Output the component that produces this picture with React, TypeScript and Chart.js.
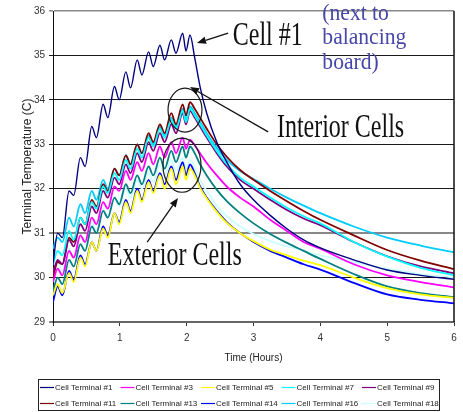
import React, { useEffect, useRef } from 'react';
import { Chart, registerables } from 'chart.js';

Chart.register(...registerables);

// Elapsed time (hours) shared by every terminal trace
const hours = [
  0, 0.07, 0.14, 0.24, 0.31, 0.41, 0.48, 0.58, 0.65, 0.75, 0.82, 0.92, 0.99,
  1.09, 1.16, 1.26, 1.33, 1.43, 1.5, 1.6, 1.67, 1.77, 1.84, 1.94, 1.99, 2.05,
  2.12, 2.2, 2.3, 2.45, 2.6, 2.8, 3.0, 3.25, 3.5, 3.75, 4.0, 4.5, 5.0, 5.5, 6.0,
];

// Terminal temperatures (C)
const cell1 = [
  30.3, 31.0, 30.9, 31.95, 31.85, 32.7, 32.5, 33.4, 33.15, 33.9, 33.6, 34.3, 34.0,
  34.63, 34.27, 34.9, 34.56, 35.08, 34.75, 35.23, 34.9, 35.35, 35.05, 35.5, 35.1, 35.46,
  34.95, 34.3, 33.7, 33.05, 32.6, 32.1, 31.75, 31.4, 31.1, 30.85, 30.67, 30.4, 30.17, 30.05, 29.96,
];
const cell3 = [
  29.9, 30.2, 30.05, 30.6, 30.45, 30.95, 30.8, 31.35, 31.2, 31.7, 31.55, 32.05, 31.95,
  32.4, 32.2, 32.6, 32.4, 32.8, 32.55, 32.95, 32.7, 33.05, 32.8, 33.15, 32.9, 33.1,
  32.98, 32.8, 32.58, 32.3, 32.05, 31.8, 31.6, 31.3, 31.05, 30.8, 30.65, 30.3, 30.05, 29.9, 29.78,
];
const cell5 = [
  29.6, 29.85, 29.65, 30.1, 29.9, 30.45, 30.25, 30.8, 30.6, 31.1, 30.9, 31.45, 31.2,
  31.7, 31.45, 31.95, 31.7, 32.15, 31.9, 32.3, 32.0, 32.45, 32.1, 32.5, 32.2, 32.45,
  32.3, 32.02, 31.78, 31.48, 31.23, 31.0, 30.82, 30.63, 30.5, 30.38, 30.28, 30.0, 29.76, 29.62, 29.54,
];
const cell7 = [
  30.3, 30.6, 30.5, 31.05, 30.85, 31.35, 31.2, 31.7, 31.55, 32.05, 31.9, 32.35, 32.2,
  32.65, 32.45, 32.9, 32.7, 33.15, 32.95, 33.35, 33.15, 33.55, 33.35, 33.75, 33.5, 33.8,
  33.65, 33.45, 33.2, 32.85, 32.55, 32.25, 32.05, 31.8, 31.57, 31.38, 31.22, 30.8, 30.47, 30.22, 30.05,
];
const cell9 = [
  30.1, 30.4, 30.3, 30.85, 30.7, 31.2, 31.05, 31.6, 31.45, 31.95, 31.8, 32.25, 32.1,
  32.55, 32.35, 32.8, 32.6, 33.05, 32.85, 33.25, 33.05, 33.45, 33.25, 33.7, 33.45, 33.75,
  33.6, 33.4, 33.15, 32.8, 32.5, 32.2, 32.0, 31.75, 31.52, 31.33, 31.18, 30.8, 30.48, 30.25, 30.1,
];
const cell11 = [
  30.0, 30.35, 30.3, 30.9, 30.8, 31.35, 31.2, 31.75, 31.6, 32.1, 31.95, 32.45, 32.3,
  32.75, 32.55, 33.0, 32.8, 33.25, 33.05, 33.45, 33.25, 33.7, 33.45, 33.9, 33.65, 33.95,
  33.8, 33.6, 33.35, 33.0, 32.72, 32.42, 32.2, 31.95, 31.72, 31.5, 31.3, 30.95, 30.62, 30.38, 30.19,
];
const cell13 = [
  29.7, 30.0, 29.85, 30.4, 30.25, 30.75, 30.6, 31.15, 31.0, 31.5, 31.35, 31.8, 31.65,
  32.1, 31.9, 32.3, 32.1, 32.5, 32.3, 32.7, 32.45, 32.85, 32.6, 32.95, 32.7, 32.95,
  32.8, 32.55, 32.3, 31.98, 31.72, 31.45, 31.22, 30.98, 30.78, 30.6, 30.42, 30.08, 29.8, 29.65, 29.56,
];
const cell14 = [
  29.45, 29.8, 29.6, 30.15, 29.95, 30.5, 30.3, 30.8, 30.6, 31.15, 30.95, 31.45, 31.25,
  31.75, 31.5, 32.0, 31.75, 32.2, 31.95, 32.35, 32.1, 32.5, 32.2, 32.6, 32.3, 32.55,
  32.35, 32.05, 31.8, 31.5, 31.25, 31.0, 30.8, 30.6, 30.45, 30.3, 30.18, 29.88, 29.62, 29.5, 29.42,
];
const cell16 = [
  30.65, 30.9, 30.8, 31.35, 31.15, 31.65, 31.45, 31.95, 31.75, 32.2, 32.0, 32.45, 32.3,
  32.75, 32.55, 33.0, 32.8, 33.2, 33.0, 33.4, 33.2, 33.6, 33.4, 33.8, 33.55, 33.85,
  33.7, 33.5, 33.25, 32.92, 32.65, 32.4, 32.22, 32.0, 31.8, 31.62, 31.45, 31.15, 30.9, 30.72, 30.57,
];
const cell18 = [
  30.1, 30.35, 30.15, 30.65, 30.45, 30.95, 30.75, 31.25, 31.05, 31.55, 31.35, 31.8, 31.6,
  32.0, 31.8, 32.2, 32.0, 32.35, 32.15, 32.55, 32.3, 32.65, 32.4, 32.7, 32.45, 32.65,
  32.5, 32.2, 31.95, 31.62, 31.38, 31.15, 30.98, 30.82, 30.7, 30.6, 30.5, 30.35, 30.2, 30.08, 30.0,
];

const seriesLabels = [
  'Cell Terminal #1', 'Cell Terminal #3', 'Cell Terminal #5', 'Cell Terminal #7', 'Cell Terminal #9',
  'Cell Terminal #11', 'Cell Terminal #13', 'Cell Terminal #14', 'Cell Terminal #16', 'Cell Terminal #18',
];
const seriesValues = [cell1, cell3, cell5, cell7, cell9, cell11, cell13, cell14, cell16, cell18];
const seriesColors = [
  '#000080', '#FF00FF', '#FFFF00', '#00FFFF', '#800080',
  '#800000', '#008080', '#0000FF', '#00CCFF', '#CCFFFF',
];

const xTicks = [0, 1, 2, 3, 4, 5, 6];
const yTicks = [29, 30, 31, 32, 33, 34, 35, 36];

const SANS = '"Liberation Sans", Arial, sans-serif';
const SERIF = '"Liberation Serif", "Times New Roman", serif';

// Callouts, placed in data units (hours, C)
const noteCell1 = { text: 'Cell #1', h: 2.69, t: 35.23 };
const noteInterior = { text: 'Interior Cells', h: 3.35, t: 33.16 };
const noteExterior = { text: 'Exterior Cells', h: 0.82, t: 30.28 };
const noteBoard = { lines: ['(next to', 'balancing', 'board)'], h: 4.03, t: [35.8, 35.26, 34.69] };

const arrowCell1 = { from: [2.62, 35.5], to: [2.155, 35.28] };
const arrowInterior = { from: [3.22, 33.28], to: [2.05, 34.29] };
const arrowExterior = { from: [1.41, 30.8], to: [1.87, 31.79] };

const ringInterior = { h: 1.975, t: 33.77, dh: 0.254, dt: 0.495 };
const ringExterior = { h: 1.93, t: 32.53, dh: 0.284, dt: 0.61 };

function drawArrow(ctx: CanvasRenderingContext2D, x1: number, y1: number, x2: number, y2: number) {
  const ang = Math.atan2(y2 - y1, x2 - x1);
  const len = 9;
  const wid = 3.6;
  const bx = x2 - Math.cos(ang) * len;
  const by = y2 - Math.sin(ang) * len;
  ctx.beginPath();
  ctx.moveTo(x1, y1);
  ctx.lineTo(bx, by);
  ctx.stroke();
  ctx.beginPath();
  ctx.moveTo(x2, y2);
  ctx.lineTo(bx + Math.sin(ang) * wid, by - Math.cos(ang) * wid);
  ctx.lineTo(bx - Math.sin(ang) * wid, by + Math.cos(ang) * wid);
  ctx.closePath();
  ctx.fill();
}

function drawTallText(ctx: CanvasRenderingContext2D, text: string, x: number, y: number, stretch: number) {
  ctx.save();
  ctx.translate(x, y);
  ctx.scale(1, stretch);
  ctx.fillText(text, 0, 0);
  ctx.restore();
}

const calloutPlugin = {
  id: 'cellCallouts',
  afterDatasetsDraw(chart: any) {
    const { ctx, chartArea, scales } = chart;
    const xs = scales.x;
    const ys = scales.y;
    const px = (h: number) => xs.getPixelForValue(h);
    const py = (t: number) => ys.getPixelForValue(t);

    ctx.save();
    // right frame edge
    ctx.strokeStyle = '#111';
    ctx.lineWidth = 1.5;
    ctx.beginPath();
    ctx.moveTo(chartArea.right, chartArea.top);
    ctx.lineTo(chartArea.right, chartArea.bottom);
    ctx.stroke();

    // rings around the peaks
    ctx.lineWidth = 1.2;
    ctx.strokeStyle = '#1a1a1a';
    for (const r of [ringInterior, ringExterior]) {
      const cx = px(r.h);
      const cy = py(r.t);
      ctx.beginPath();
      ctx.ellipse(cx, cy, px(r.h + r.dh) - cx, cy - py(r.t + r.dt), 0, 0, Math.PI * 2);
      ctx.stroke();
    }

    // arrows
    ctx.fillStyle = '#111';
    ctx.strokeStyle = '#111';
    ctx.lineWidth = 1.3;
    for (const a of [arrowCell1, arrowInterior, arrowExterior]) {
      drawArrow(ctx, px(a.from[0]), py(a.from[1]), px(a.to[0]), py(a.to[1]));
    }

    // labels
    ctx.fillStyle = '#111';
    ctx.font = `24px ${SERIF}`;
    ctx.textAlign = 'left';
    ctx.textBaseline = 'alphabetic';
    for (const n of [noteCell1, noteInterior, noteExterior]) {
      drawTallText(ctx, n.text, px(n.h), py(n.t), 1.38);
    }

    ctx.fillStyle = '#4646a8';
    ctx.font = `20px ${SERIF}`;
    noteBoard.lines.forEach((line, i) => {
      ctx.save();
      ctx.translate(px(noteBoard.h), py(noteBoard.t[i]));
      ctx.scale(1.08, 1.12);
      ctx.fillText(line, 0, 0);
      ctx.restore();
    });
    ctx.restore();
  },
  afterDraw(chart: any) {
    // boxed legend, two rows of five
    const { ctx } = chart;
    const datasets = chart.data.datasets;
    const boxL = 38.5;
    const boxT = 379.5;
    const boxW = 401;
    const boxH = 31;
    ctx.save();
    ctx.fillStyle = '#fff';
    ctx.fillRect(boxL, boxT, boxW, boxH);
    ctx.strokeStyle = '#222';
    ctx.lineWidth = 1;
    ctx.strokeRect(boxL, boxT, boxW, boxH);
    ctx.font = `8px ${SANS}`;
    ctx.textBaseline = 'middle';
    ctx.textAlign = 'left';
    datasets.forEach((ds: any, i: number) => {
      const col = i % 5;
      const row = Math.floor(i / 5);
      const x0 = 40 + col * 80.5;
      const yc = 387.5 + row * 16;
      ctx.strokeStyle = ds.borderColor;
      ctx.lineWidth = 1.2;
      ctx.beginPath();
      ctx.moveTo(x0, yc);
      ctx.lineTo(x0 + 14, yc);
      ctx.stroke();
      ctx.fillStyle = '#222';
      ctx.fillText(ds.label, x0 + 15, yc + 0.5);
    });
    ctx.restore();
  },
};

export default function App() {
  const canvasRef = useRef<HTMLCanvasElement | null>(null);

  useEffect(() => {
    document.body.style.margin = '0';
    const canvas = canvasRef.current;
    if (!canvas) return;

    const datasets = seriesLabels.map((label, i) => ({
      label,
      data: hours.map((h, k) => ({ x: h, y: seriesValues[i][k] })),
      borderColor: seriesColors[i],
      backgroundColor: seriesColors[i],
      borderWidth: i === 0 ? 1.4 : 1.8,
      pointRadius: 0,
      fill: false,
      cubicInterpolationMode: 'monotone' as const,
    }));

    const chart = new Chart(canvas, {
      type: 'line',
      data: { datasets },
      options: {
        animation: false,
        responsive: false,
        devicePixelRatio: 1,
        layout: { padding: { top: 11, right: 9, bottom: 0, left: 0 } },
        plugins: {
          legend: { display: false },
          tooltip: { enabled: false },
        },
        scales: {
          x: {
            type: 'linear',
            min: 0,
            max: 6,
            afterBuildTicks: (s: any) => {
              s.ticks = xTicks.map((v) => ({ value: v }));
            },
            afterFit: (s: any) => {
              s.height = 90;
            },
            ticks: {
              color: '#333',
              font: { family: SANS, size: 10 },
              padding: 6,
              maxRotation: 0,
            },
            grid: { drawOnChartArea: false, drawTicks: true, tickLength: 4, color: '#333' },
            border: { color: '#666', width: 2 },
            title: {
              display: true,
              text: 'Time (Hours)',
              color: '#222',
              font: { family: SANS, size: 10 },
              padding: { top: 0, bottom: 48 },
            },
          },
          y: {
            type: 'linear',
            min: 29,
            max: 36,
            afterBuildTicks: (s: any) => {
              s.ticks = yTicks.map((v) => ({ value: v }));
            },
            afterFit: (s: any) => {
              s.width = 53;
            },
            ticks: {
              color: '#333',
              font: { family: SANS, size: 10 },
              padding: 4,
            },
            grid: {
              drawTicks: true,
              tickLength: 4,
              color: (c: any) => {
                const v = c.tick ? c.tick.value : 0;
                return v === 31 || v === 36 || v === 29 ? '#888' : '#1a1a1a';
              },
              lineWidth: (c: any) => {
                const v = c.tick ? c.tick.value : 0;
                if (v === 31 || v === 29) return 2;
                if (v === 36) return 1.5;
                return 1;
              },
            },
            border: { color: '#111', width: 1 },
            title: {
              display: true,
              text: 'Terminal Temperature (C)',
              color: '#222',
              font: { family: SANS, size: 12 },
              padding: { top: 20, bottom: 0 },
            },
          },
        },
      },
      plugins: [calloutPlugin],
    });

    return () => {
      chart.destroy();
    };
  }, []);

  return (
    <div style={{ position: 'absolute', left: 0, top: 0, width: 463, height: 412, background: '#fff' }}>
      <canvas ref={canvasRef} width={463} height={412} style={{ display: 'block' }} />
    </div>
  );
}
